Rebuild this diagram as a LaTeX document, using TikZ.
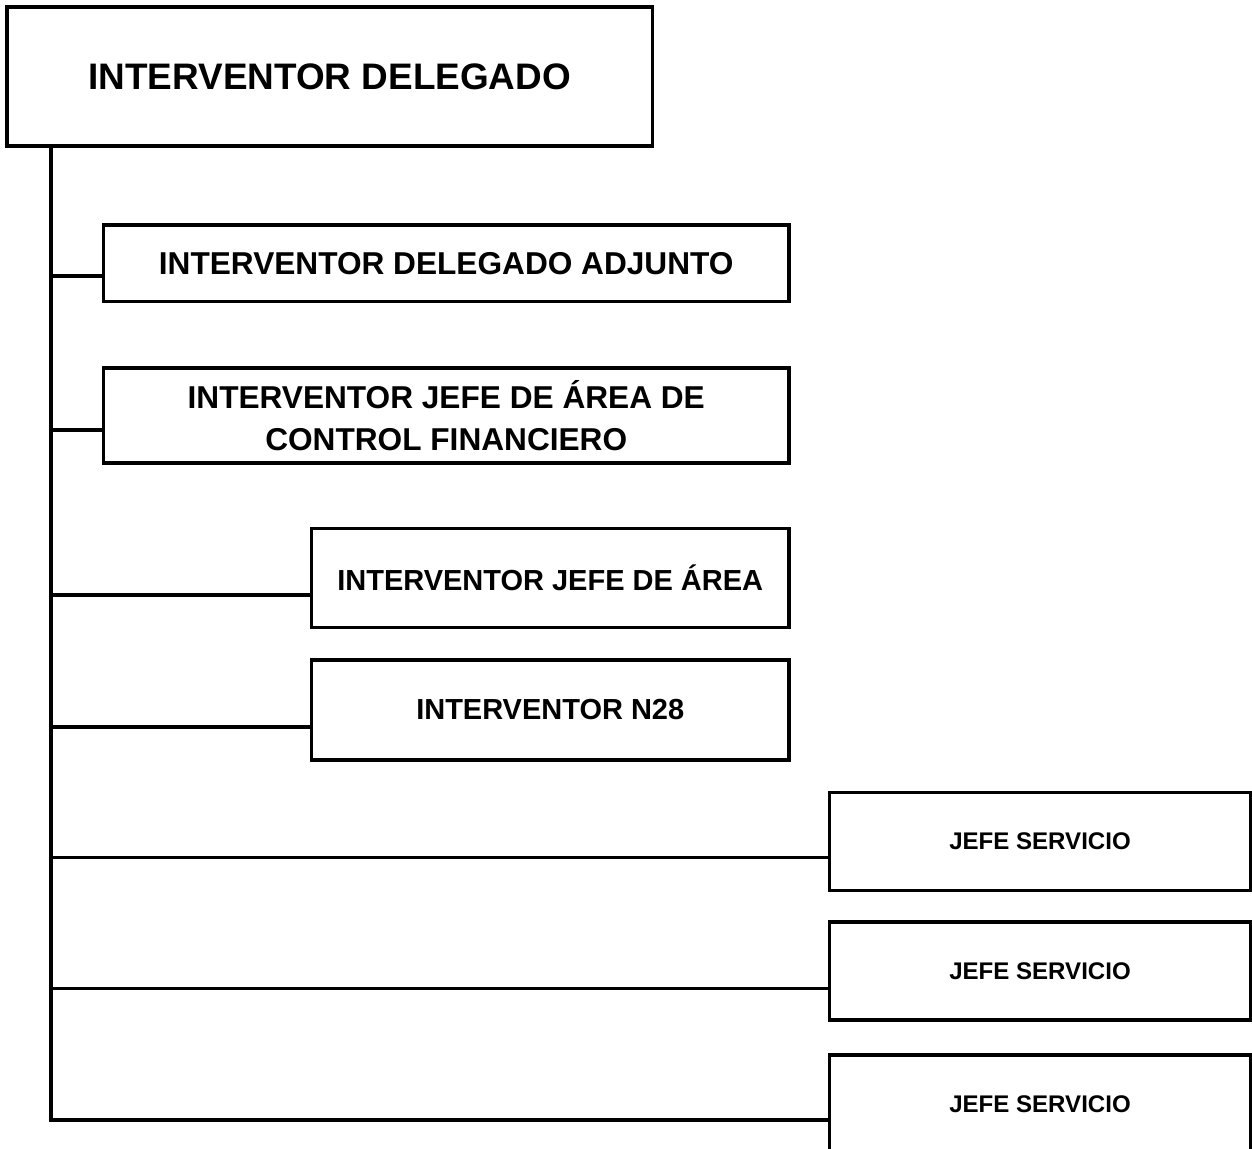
\documentclass[tikz,border=0pt]{standalone}
\usepackage{fontspec}
\setmainfont{Liberation Sans}
\def\px{0.02cm}

\begin{document}
\begin{tikzpicture}[x=0.02cm, y=-0.02cm,
    box/.style={draw, line width=2.2pt, inner sep=0pt, outer sep=0pt, anchor=north west, align=center, font=\bfseries},
    link/.style={line width=1.8pt}]
        \useasboundingbox (0,0) rectangle (1252,1149);
        \clip (0,0) rectangle (1252,1149);
        % jefe
        \node[box, minimum width=645.5*\px, minimum height=139*\px, font=\bfseries\fontsize{21}{25}\selectfont] (del) at (7,7) {INTERVENTOR DELEGADO};
        % interventores
        \node[box, minimum width=685.5*\px, minimum height=76.5*\px, font=\bfseries\fontsize{18}{22}\selectfont] (adj) at (103.5,225) {INTERVENTOR DELEGADO ADJUNTO};
        \node[box, minimum width=685.5*\px, minimum height=95*\px, font=\bfseries\fontsize{18}{23.8}\selectfont] (cf) at (103.5,368) {INTERVENTOR JEFE DE ÁREA DE\\CONTROL FINANCIERO};
        \node[box, minimum width=477.5*\px, minimum height=99*\px, font=\bfseries\fontsize{16.5}{20}\selectfont] (ja) at (311.5,528.5) {INTERVENTOR JEFE DE ÁREA};
        \node[box, minimum width=477.5*\px, minimum height=100*\px, font=\bfseries\fontsize{16.5}{20}\selectfont] (n28) at (311.5,660) {INTERVENTOR N28};
        % servicios
        \foreach \i/\y in {1/792.5, 2/922, 3/1055}
          \node[box, minimum width=421*\px, minimum height=98*\px, font=\bfseries\fontsize{13.7}{16}\selectfont] (js\i) at (829.5,\y) {JEFE SERVICIO};
        % conexiones
        \coordinate (trunk) at (51,146);
        \foreach \b/\d in {adj/12.75, cf/14.5, ja/17, n28/17, js1/16, js2/17.5, js3/16}
          \draw[link] ([yshift=-\d*\px]\b.west) coordinate (j\b) -- (j\b -| trunk);
        \draw[link] (trunk) |- (jjs3);
      \end{tikzpicture}
\end{document}
